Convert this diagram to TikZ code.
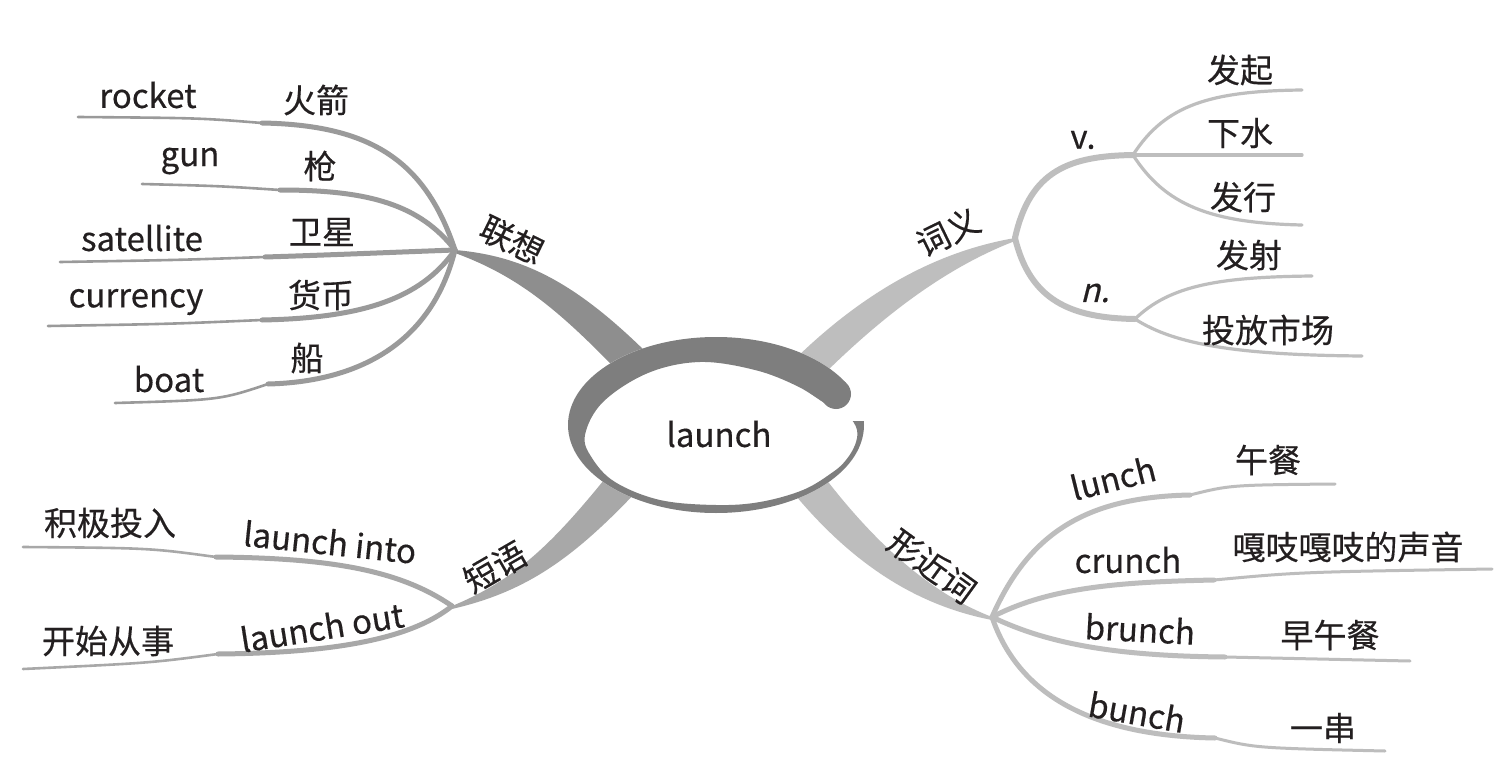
\documentclass[tikz,border=0pt]{standalone}
\usepackage{fontspec}
\setmainfont{Noto Sans CJK SC}[FakeBold=0.4]
\definecolor{txt}{HTML}{231F20}
\definecolor{ringc}{HTML}{7E7E7E}
\definecolor{gA}{HTML}{8E8E8E}
\definecolor{gAs}{HTML}{9A9A9A}
\definecolor{gB}{HTML}{BEBEBE}
\definecolor{gC}{HTML}{A8A8A8}
\definecolor{gD}{HTML}{BDBDBD}
\tikzset{
  lbl/.style={font=\fontsize{33}{40}\selectfont, text=txt, inner sep=0pt},
  subA/.style={draw=gAs, line width=5pt},
  subAo/.style={draw=gAs, line width=2.6pt},
  subB/.style={draw=gB, line width=6pt},
  subBo/.style={draw=gB, line width=3.2pt},
  subC/.style={draw=gC, line width=5pt},
  subCo/.style={draw=gC, line width=2.6pt},
  subD/.style={draw=gD, line width=5pt},
  subDo/.style={draw=gD, line width=3pt},
}
\begin{document}
\begin{tikzpicture}[x=1pt,y=-1pt, line cap=round, line join=round]
\useasboundingbox (0,0) rectangle (1497,773);
\fill[white] (0,0) rectangle (1497,773);

% hubs
\coordinate (hA) at (455,250);
\coordinate (hB) at (1015,238);
\coordinate (hC) at (452,606);
\coordinate (hD) at (992,617);
\coordinate (hV) at (1133,155);
\coordinate (hN) at (1135,319);

% main ribbons
\fill[gA] (hA) .. controls (525,256) and (578,284) .. (652,358) -- (628,382) .. controls (560,310) and (518,276) .. (455,253) -- cycle;
\fill[gB] (hB) .. controls (945,250) and (870,285) .. (792,362) -- (814,384) .. controls (890,307) and (955,264) .. (1015,241) -- cycle;
\fill[gC] (hC) .. controls (515,580) and (552,545) .. (612,470) -- (638,490) .. controls (572,560) and (525,592) .. (452,609) -- cycle;
\fill[gD] (hD) .. controls (935,595) and (880,550) .. (822,474) -- (796,496) .. controls (860,572) and (925,607) .. (992,620) -- cycle;

% central swirl
\fill[white] (716,425) ellipse [x radius=148, y radius=88];
\begin{scope}[even odd rule]
  \clip (0,0) rectangle (1497,773) (850.7,377.7) -- (821.3,410.3) -- (850,421) -- (882,421) -- (882,377.7) -- cycle;
  \fill[ringc] (716,425) ellipse [x radius=148, y radius=88]
     plot[smooth cycle, tension=0.6] coordinates {(585,435) (603,402) (648,373) (700,362) (755,370) (797,386) (826,404) (848,416) (857,430) (855,445) (846,460) (833,472) (803,490) (760,502) (716,505) (660,500) (615,482) (592,458)};
\end{scope}
\fill[ringc] (836,394) circle [radius=15];
\node[lbl] (root) at (719,434) {launch};

% ---- 联想 branch
\node[lbl, rotate=-26] (lianxiang) at (512,240) {联想};
\coordinate (kA1) at (262,123); \coordinate (eA1) at (78,117);
\coordinate (kA2) at (280,190); \coordinate (eA2) at (142,184);
\coordinate (kA3) at (265,257); \coordinate (eA3) at (60,262);
\coordinate (kA4) at (262,320); \coordinate (eA4) at (48,326);
\coordinate (kA5) at (268,384); \coordinate (eA5) at (115,403);
\draw[subA] (hA) .. controls (425,160) and (370,125) .. (kA1);
\draw[subAo] (kA1) .. controls (200,118) .. (eA1);
\draw[subA] (hA) .. controls (420,205) and (370,190) .. (kA2);
\draw[subAo] (kA2) .. controls (220,186) .. (eA2);
\draw[subA] (hA) .. controls (400,252) and (330,255) .. (kA3);
\draw[subAo] (kA3) .. controls (180,260) .. (eA3);
\draw[subA] (hA) .. controls (420,300) and (360,318) .. (kA4);
\draw[subAo] (kA4) .. controls (170,324) .. (eA4);
\draw[subA] (hA) .. controls (430,350) and (350,382) .. (kA5);
\draw[subAo] (kA5) .. controls (220,400) .. (eA5);
\node[lbl] (rocket) at (148,95) {rocket};
\node[lbl] (huojian) at (316,100) {火箭};
\node[lbl] (gun) at (190,161) {gun};
\node[lbl] (qiang) at (320,166) {枪};
\node[lbl] (satellite) at (142,238) {satellite};
\node[lbl] (weixing) at (322,232) {卫星};
\node[lbl] (currency) at (136,302) {currency};
\node[lbl] (huobi) at (321,295) {货币};
\node[lbl] (boat) at (169,379) {boat};
\node[lbl] (chuan) at (307,358) {船};

% ---- 词义 branch
\node[lbl, rotate=26] (ciyi) at (948,232) {词义};
\draw[subB] (hB) .. controls (1030,170) and (1070,156) .. (hV);
\draw[subB] (hB) .. controls (1030,300) and (1070,318) .. (hN);
\node[lbl] (v) at (1083,140) {v.};
\node[lbl, xslant=0.25] (n) at (1097,293) {n.};
\coordinate (eV1) at (1302,90);
\coordinate (eV2) at (1302,155);
\coordinate (eV3) at (1302,225);
\coordinate (eN1) at (1312,276);
\coordinate (eN2) at (1362,356);
\draw[subBo] (hV) .. controls (1165,105) and (1210,91) .. (eV1);
\draw[subBo] (hV) -- (eV2);
\draw[subBo] (hV) .. controls (1165,205) and (1210,223) .. (eV3);
\draw[subBo] (hN) .. controls (1170,285) and (1220,277) .. (eN1);
\draw[subBo] (hN) .. controls (1175,345) and (1240,355) .. (eN2);
\node[lbl] (faqi) at (1240,70) {发起};
\node[lbl] (xiashui) at (1240,133) {下水};
\node[lbl] (faxing) at (1243,197) {发行};
\node[lbl] (fashe) at (1249,255) {发射};
\node[lbl] (toufang) at (1268,330) {投放市场};

% ---- 短语 branch
\node[lbl, rotate=30] (duanyu) at (495,567) {短语};
\coordinate (kC1) at (216,557); \coordinate (eC1) at (23,547);
\coordinate (kC2) at (218,654); \coordinate (eC2) at (23,669);
\draw[subC] (hC) .. controls (400,570) and (330,558) .. (kC1);
\draw[subCo] (kC1) .. controls (150,548) .. (eC1);
\draw[subC] (hC) .. controls (410,640) and (330,653) .. (kC2);
\draw[subCo] (kC2) .. controls (150,663) .. (eC2);
\node[lbl, rotate=-6] (into) at (330,542) {launch into};
\node[lbl, rotate=9] (out) at (322,627) {launch out};
\node[lbl] (jiji) at (110,523) {积极投入};
\node[lbl] (kaishi) at (108,641) {开始从事};

% ---- 形近词 branch
\node[lbl, rotate=-36] (xingjin) at (932,566) {形近词};
\coordinate (kD1) at (1190,495); \coordinate (eD1) at (1335,484);
\coordinate (kD2) at (1214,580); \coordinate (eD2) at (1492,569);
\coordinate (kD3) at (1225,657); \coordinate (eD3) at (1410,661);
\coordinate (kD4) at (1215,738); \coordinate (eD4) at (1385,751);
\draw[subD] (hD) .. controls (1030,530) and (1090,497) .. (kD1);
\draw[subDo] (kD1) .. controls (1230,485) .. (eD1);
\draw[subD] (hD) .. controls (1050,587) and (1120,582) .. (kD2);
\draw[subDo] (kD2) .. controls (1300,572) .. (eD2);
\draw[subD] (hD) .. controls (1050,645) and (1120,656) .. (kD3);
\draw[subDo] (kD3) -- (eD3);
\draw[subD] (hD) .. controls (1020,700) and (1100,736) .. (kD4);
\draw[subDo] (kD4) .. controls (1255,748) .. (eD4);
\node[lbl, rotate=14] (lunch) at (1113,478) {lunch};
\node[lbl] (crunch) at (1128,560) {crunch};
\node[lbl, rotate=-3] (brunch) at (1140,629) {brunch};
\node[lbl, rotate=-10] (bunch) at (1137,712) {bunch};
\node[lbl] (wucan) at (1268,460) {午餐};
\node[lbl] (gazhi) at (1348,547) {嘎吱嘎吱的声音};
\node[lbl] (zaowucan) at (1330,635) {早午餐};
\node[lbl] (yichuan) at (1323,728) {一串};
\end{tikzpicture}
\end{document}
